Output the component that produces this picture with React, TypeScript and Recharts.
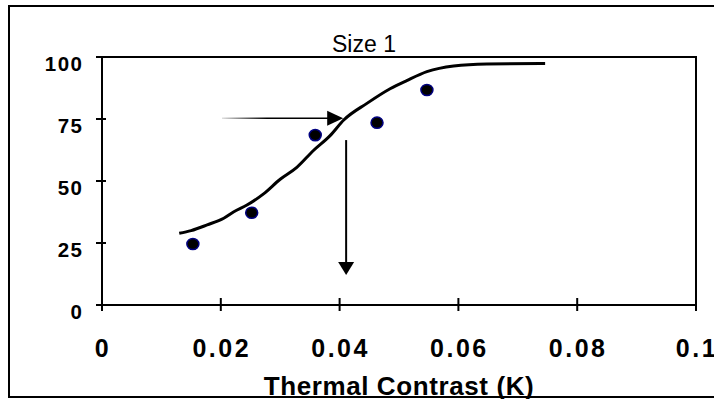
import { ComposedChart, Line, Scatter, XAxis, YAxis, ReferenceArea, ReferenceLine } from 'recharts';

// fitted curve
const curveX = [0.013, 0.015, 0.0177, 0.0205, 0.0222, 0.0244, 0.0272, 0.03, 0.0328, 0.0356, 0.0384, 0.0407, 0.0446, 0.0485, 0.0513, 0.0547, 0.0592, 0.0648, 0.0746];
const curveY = [28.9, 30, 32.3, 35, 37.6, 40.3, 44.8, 50.7, 55.5, 62.3, 68.3, 74.6, 81.3, 87.2, 90.5, 94.1, 96.4, 97.2, 97.4];

// measured points
const pointX = [0.0153, 0.0252, 0.0359, 0.0463, 0.0547];
const pointY = [24.6, 37.2, 68.5, 73.5, 86.7];

const xTicks = [0, 0.02, 0.04, 0.06, 0.08, 0.1];
const yTicks = [0, 25, 50, 75, 100];

// annotation arrows
const hArrow = [{ x: 0.0202, y: 75.3 }, { x: 0.0406, y: 75.3 }];
const vArrow = [{ x: 0.0411, y: 66.5 }, { x: 0.0411, y: 12.1 }];

const curveData = curveX.map((x, i) => ({ x, y: curveY[i] }));
const pointData = pointX.map((x, i) => ({ x, y: pointY[i] }));

const font = '"Liberation Sans", Arial, sans-serif';

const XTick = ({ x, y, payload }: any) => (
  <g>
    <line x1={x} x2={x} y1={y - 7} y2={y + 6} stroke="#000" strokeWidth={2} />
    <text x={x + 1} y={y + 51.5} textAnchor="middle" fontFamily={font} fontWeight="bold" fontSize={25} letterSpacing={2.5} fill="#000">
      {String(payload.value)}
    </text>
  </g>
);

const YTick = ({ x, y, payload }: any) => (
  <g>
    <line x1={x - 6} x2={x + 4} y1={y} y2={y} stroke="#000" strokeWidth={2} />
    <text x={x - 18.5} y={y + 13.5} textAnchor="end" fontFamily={font} fontWeight="bold" fontSize={20.5} letterSpacing={1.5} fill="#000">
      {String(payload.value)}
    </text>
  </g>
);

const HArrowShape = (p: any) => {
  const { x1, y1, x2, y2 } = p;
  return (
    <g>
      <defs>
        <linearGradient id="shaftFade" gradientUnits="userSpaceOnUse" x1={x1} y1={y1} x2={x1 + 45} y2={y1}>
          <stop offset="0" stopColor="#e0e0e0" />
          <stop offset="1" stopColor="#000" />
        </linearGradient>
      </defs>
      <line x1={x1} y1={y1} x2={x2 - 14} y2={y2} stroke="url(#shaftFade)" strokeWidth={1.5} />
      <polygon points={`${x2},${y2} ${x2 - 16},${y2 - 7.5} ${x2 - 16},${y2 + 7.5}`} fill="#000" />
    </g>
  );
};

const VArrowShape = (p: any) => {
  const { x1, y1, x2, y2 } = p;
  return (
    <g>
      <line x1={x1} y1={y1} x2={x2} y2={y2 - 12} stroke="#000" strokeWidth={2} />
      <polygon points={`${x2},${y2} ${x2 - 8},${y2 - 13} ${x2 + 8},${y2 - 13}`} fill="#000" />
    </g>
  );
};

const Dot = (p: any) => (
  <ellipse cx={p.cx} cy={p.cy} rx={6} ry={5.6} fill="#000" stroke="#000080" strokeWidth={1.5} />
);

const AxisTitle = ({ viewBox }: any) => (
  <text
    x={viewBox.x + viewBox.width / 2}
    y={viewBox.y + 90}
    textAnchor="middle"
    fontFamily={font}
    fontWeight="bold"
    fontSize={26}
    letterSpacing={0.6}
    fill="#000"
  >
    Thermal Contrast (K)
  </text>
);

export default function App() {
  return (
    <div style={{ position: 'absolute', left: 0, top: 0, width: 714, height: 399, overflow: 'hidden', background: '#fff' }}>
      <div
        style={{
          position: 'absolute',
          left: 8,
          top: 5,
          width: 740,
          height: 393,
          boxSizing: 'border-box',
          border: '2px solid #000',
        }}
      />
      <ComposedChart
        width={714}
        height={399}
        margin={{ top: 57, right: 18, bottom: 0, left: 42 }}
        style={{ position: 'absolute', left: 0, top: 0 }}
      >
        <XAxis
          type="number"
          dataKey="x"
          domain={[0, 0.1]}
          ticks={xTicks}
          height={94}
          tickSize={0}
          tickMargin={0}
          tickLine={false}
          axisLine={{ stroke: '#000', strokeWidth: 2 }}
          tick={<XTick />}
          interval={0}
          label={<AxisTitle />}
        />
        <YAxis
          type="number"
          dataKey="y"
          domain={[0, 100]}
          ticks={yTicks}
          width={60}
          tickSize={0}
          tickMargin={0}
          tickLine={false}
          axisLine={{ stroke: '#000', strokeWidth: 2 }}
          tick={<YTick />}
          interval={0}
        />
        <ReferenceArea x1={0} x2={0.1} y1={0} y2={100} fill="none" stroke="#000" strokeWidth={2} />
        <Line
          data={curveData}
          dataKey="y"
          type="monotone"
          stroke="#000"
          strokeWidth={3}
          dot={false}
          activeDot={false}
          isAnimationActive={false}
        />
        <Scatter data={pointData} dataKey="y" shape={<Dot />} isAnimationActive={false} />
        <ReferenceLine segment={hArrow} shape={HArrowShape} />
        <ReferenceLine segment={vArrow} shape={VArrowShape} />
      </ComposedChart>
      <svg width={714} height={399} style={{ position: 'absolute', left: 0, top: 0, pointerEvents: 'none' }}>
        <text x={364} y={51.7} textAnchor="middle" fontFamily={font} fontSize={23} fill="#000">
          Size 1
        </text>
      </svg>
    </div>
  );
}
